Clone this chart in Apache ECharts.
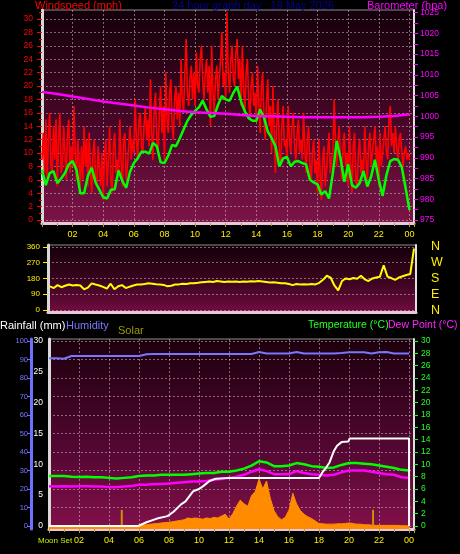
<!DOCTYPE html>
<html><head><meta charset="utf-8">
<script src="https://cdn.jsdelivr.net/npm/echarts@6/dist/echarts.min.js"></script>
<style>html,body{margin:0;padding:0;background:#000;}#c{width:460px;height:554px;}</style>
</head><body><div id="c"></div>
<script>
// ---- data (hours since midnight) ----
const gustStep = 1/12;
const windGust = [
 9,13,7,15,6,12,16,8,7,14,9,15,
 5,12,16,7,8,14,10,6,13,15,7,11,
 8,17,10,6,12,9,5,11,6,14,8,12,
 5,13,7,4,10,12,6,5,11,8,5,10,
 3,10,12,5,9,14,6,4,11,13,7,9,
 7,15,9,5,12,13,6,8,11,14,9,12,
 10,18,12,9,15,16,11,10,14,17,12,15,
 11,21,13,9,17,19,12,10,16,20,13,17,
 9,22,15,13,19,21,14,12,18,20,15,19,
 14,24,18,16,22,27,19,17,21,23,18,22,
 17,25,20,19,24,26,21,18,22,24,19,23,
 14,26,19,16,21,23,18,18,24,28,20,22,
 18,31,22,19,24,26,21,20,25,27,21,24,
 17,26,20,16,22,24,18,15,20,22,17,19,
 15,23,17,13,20,22,15,12,18,21,14,17,
 10,20,13,7,15,18,10,8,14,17,11,12,
 9,17,12,10,14,16,11,9,13,15,10,12,
 9,16,11,7,12,14,8,6,10,12,7,9,
 4,12,7,3,9,11,5,5,10,13,7,9,
 10,18,12,8,12,14,9,6,11,13,8,10,
 5,14,8,4,11,13,6,5,10,12,7,9,
 7,14,9,6,11,13,8,8,12,14,9,11,
 5,13,8,8,12,14,10,9,15,17,11,13,
 10,14,11,9,12,13,10,8,10,11,9,10,
 9];
const avgStep = 0.25;
const windAvg = [
 7.5,5.2,7.0,7.3,5.5,6.2,7.0,8.3,8.8,7.5,4.0,4.0,6.6,7.8,5.6,4.5,
 3.4,3.2,4.5,4.6,7.4,5.8,4.8,7.2,8.5,9.2,10.2,10.2,9.9,11.5,11.0,8.6,
 8.5,9.6,11.2,11.0,12.2,13.5,14.8,15.7,16.3,16.8,17.8,16.5,15.4,15.5,17.2,18.5,
 18.0,17.8,19.0,19.9,17.7,16.2,15.2,14.8,14.8,16.5,15.3,13.2,12.2,11.0,8.0,9.2,
 9.4,8.0,8.7,8.8,8.5,8.3,6.0,5.6,5.3,3.8,4.3,3.2,7.0,11.8,9.2,5.7,
 8.3,5.2,4.8,5.5,7.3,5.0,6.5,9.0,6.0,3.6,6.7,8.8,9.1,9.0,7.9,4.8, 1.5];
const baroStep = 1;
const barometer = [1005.9,1005.4,1004.8,1004.2,1003.6,1003.1,1002.6,1002.1,1001.7,1001.3,1001.0,1000.8,
 1000.6,1000.3,1000.1,1000.0,999.9,999.8,999.8,999.8,999.8,999.8,999.9,1000.1,1000.5];
const dirStep = 0.25;
const windDir = [
 135,125,142,130,138,145,140,143,140,118,128,152,145,140,132,122,
 150,118,135,142,125,133,140,145,146,148,152,150,147,146,143,135,
 138,145,146,150,148,152,153,155,158,160,162,160,165,163,160,162,
 161,163,160,162,161,164,162,165,163,160,157,158,155,152,153,148,
 142,148,146,147,145,148,146,155,172,195,185,140,112,165,180,175,
 182,178,195,175,165,180,185,190,255,190,182,172,185,192,199,205, 350];
const halfStep = 0.5;
const humidity = [90.7,90.7,90.4,91.9,91.9,91.9,91.9,91.9,91.9,91.9,91.9,91.9,91.9,92.8,93.0,93.0,93.0,93.0,93.0,93.0,
 93.0,93.0,93.0,93.0,93.0,93.0,93.0,93.0,94.0,93.2,93.2,93.2,93.2,94.0,93.2,93.2,93.2,93.2,93.2,93.5,
 93.9,93.9,93.9,93.2,93.9,94.0,93.2,93.2,93.2];
const temperature = [8.1,8.1,8.1,8.0,7.95,8.0,7.9,7.9,7.8,7.7,7.8,7.9,8.1,8.2,8.2,8.3,8.3,8.3,8.3,8.4,
 8.5,8.6,8.6,8.8,8.8,9.0,9.3,9.8,10.5,10.3,9.7,9.7,9.8,10.2,10.0,9.7,9.6,9.4,9.5,9.9,
 10.2,10.2,10.1,10.0,9.8,9.6,9.4,9.1,9.0];
const dewPoint = [6.45,6.4,6.45,6.4,6.45,6.45,6.4,6.4,6.3,6.3,6.4,6.5,6.7,6.7,6.8,6.8,6.9,7.0,7.1,7.2,
 7.2,7.3,7.5,7.6,7.8,8.0,8.3,8.8,9.2,8.9,8.4,8.4,8.4,8.9,8.6,8.4,8.3,8.2,8.3,8.7,
 9.0,9.0,9.0,8.8,8.6,8.4,8.3,7.9,7.8];
const rainTimes = [0,5.95,6.5,7.2,7.9,8.3,8.8,9.1,9.6,10.0,10.3,10.7,11.1,12.0,18.0,18.2,18.45,18.7,18.85,19.0,19.2,19.5,19.95,20.05,24.0,24.0];
const rainTotal = [0,0,0.6,1.2,1.6,2.3,3.5,4.0,5.6,6.0,6.5,7.3,7.65,7.8,7.8,8.6,9.4,10.3,11.3,12.2,13.0,13.6,13.7,14.2,14.2,0];
const solarStep = 0.25;
const solar = [
 0,0,0,0,0,0,0,0,0,0,0,0,0,0,0,0,0,0,0,0,0,0,0,0,
 2,3,4,6,7,8,10,11,12,14,16,18,
 20,26,24,26,24,22,26,24,28,26,32,38,
 22,40,64,84,72,64,98,112,152,120,146,90,
 50,30,20,28,52,106,72,50,38,30,24,16,
 8,7,6,6,6,7,7,8,10,8,6,6,
 4,4,3,2,2,2,2,2,2,2,1,1, 0];
const rainRateTimes = [4.85, 21.6];
const rainRate = [2.6, 2.6];
const windLabels = [0,2,4,6,8,10,12,14,16,18,20,22,24,26,28,30];
const windMinor = [1,3,5,7,9,11,13,15,17,19,21,23,25,27,29,31];
const baroLabels = [975,980,985,990,995,1000,1005,1010,1015,1020,1025];
const baroTicks = [975,977.5,980,982.5,985,987.5,990,992.5,995,997.5,1000,1002.5,1005,1007.5,1010,1012.5,1015,1017.5,1020,1022.5,1025];
const dirLabels = [0,90,180,270,360];
const compass = {0:'N',90:'E',180:'S',270:'W',360:'N'};
const humLabels = [0,10,20,30,40,50,60,70,80,90,100];
const rainLabels = [0,5,10,15,20,25,30];
const tempLabels = [0,2,4,6,8,10,12,14,16,18,20,22,24,26,28,30];

// ---- helpers ----
const seq = (arr, step) => arr.map((v, i) => [+(i * step).toFixed(4), v]);
const zip = (ts, vs) => ts.map((t, i) => [t, vs[i]]);
const FONT = 'Liberation Sans, Arial, sans-serif';
const bg = (a, b, c) => ({type:'linear', x:0, y:0, x2:0, y2:1, colorStops:[{offset:0,color:a},{offset:0.55,color:b},{offset:1,color:c}]});
const hourFmt = v => {
  const r = Math.round(v);
  if (Math.abs(v - r) > 1e-6 || r <= 0 || r % 2) return '';
  return String(r % 24).padStart(2, '0');
};
const plain = v => String(v);
const grid = {lineStyle:{color:'rgba(210,190,200,0.55)', type:[2,2], width:1}};

const chart = echarts.init(document.getElementById('c'), null, {renderer:'canvas'});
const T = (text, left, top, color, size) => ({text, left, top, padding:0, z:20, textStyle:{color, fontSize:size||11, fontWeight:'normal', fontFamily:FONT}});

chart.setOption({
  animation:false,
  backgroundColor:'#000',
  title:[
    T('Windspeed (mph)', 35, 0, '#ff0000'),
    T('24 hour graph day : 19 May 2026', 172, 0, '#000099'),
    T('Barometer (hpa)', 367, 0, '#ff00ff'),
    T('Rainfall (mm)', 0, 320, '#ffffff'),
    T('Humidity', 66, 320, '#7777ff'),
    T('Solar', 118, 325, '#9a9a00'),
    T('Temperature (°C)', 308, 320, '#22ff22', 10.5),
    T('Dew Point (°C)', 388, 320, '#ff22ff', 10.5),
    T('Moon Set', 38, 536.5, '#ccee00', 8)
  ],
  grid:[
    {left:42, top:10, width:372, height:213, show:true, backgroundColor:bg('#14000a','#4a0628','#7c1448'), borderColor:'#8c8c8c', borderWidth:1},
    {left:48, top:245, width:368, height:67, show:true, backgroundColor:bg('#140008','#3c0420','#720c40'), borderColor:'#8c8c8c', borderWidth:1},
    {left:49, top:339, width:365, height:190, show:true, backgroundColor:bg('#1c000c','#500630','#82104a'), borderColor:'#8c8c8c', borderWidth:1}
  ],
  xAxis:[
    {type:'value', gridIndex:0, min:0, max:24.3, interval:2,
     axisLine:{show:true, onZero:false, lineStyle:{color:'#e8c8d8', width:3}},
     axisTick:{show:true, length:4, lineStyle:{color:'#b0a040'}},
     minorTick:{show:true, splitNumber:2, length:3, lineStyle:{color:'#b0a040'}},
     axisLabel:{formatter:hourFmt, color:'#ffee00', fontSize:9, fontFamily:FONT, margin:7},
     splitLine:{show:true, ...grid}},
    {type:'value', gridIndex:1, min:-0.13, max:24.13,
     axisLine:{show:true, onZero:false, lineStyle:{color:'#e8c8d8', width:3}},
     axisTick:{show:false}, axisLabel:{show:false}, splitLine:{show:false}},
    {type:'value', gridIndex:2, min:0, max:24.33, interval:2,
     axisLine:{show:true, onZero:false, lineStyle:{color:'#e8c8d8', width:3}},
     axisTick:{show:true, length:4, lineStyle:{color:'#b0a040'}},
     minorTick:{show:true, splitNumber:2, length:3, lineStyle:{color:'#b0a040'}},
     axisLabel:{formatter:hourFmt, color:'#ffee00', fontSize:9, fontFamily:FONT, margin:7},
     splitLine:{show:true, ...grid}}
  ],
  yAxis:[
    {type:'value', gridIndex:0, position:'left', min:-0.45, max:31.34,
     axisLine:{show:true, onZero:false, lineStyle:{color:'#d8d8d8', width:3}},
     axisTick:{show:true, length:5, customValues:windLabels, lineStyle:{color:'#ff0000'}},
     axisLabel:{customValues:windLabels, formatter:plain, color:'#ff0000', fontSize:8.5, fontFamily:FONT, margin:9},
     splitLine:{show:true, ...grid}},
    {type:'value', gridIndex:0, position:'right', min:974.27, max:1025.65,
     axisLine:{show:true, onZero:false, lineStyle:{color:'#e0e0e0', width:2}},
     axisTick:{show:true, length:4, customValues:baroTicks, lineStyle:{color:'#ff00ff'}},
     axisLabel:{customValues:baroLabels, formatter:plain, color:'#ff00ff', fontSize:8.5, fontFamily:FONT, margin:6},
     splitLine:{show:false}},
    {type:'value', gridIndex:0, position:'left', min:-0.45, max:31.34,
     axisLine:{show:false}, axisLabel:{show:false, customValues:windMinor},
     axisTick:{show:true, length:3, customValues:windMinor, lineStyle:{color:'#ff0000'}},
     splitLine:{show:false}},
    {type:'value', gridIndex:1, position:'left', min:-11, max:370,
     axisLine:{show:true, onZero:false, lineStyle:{color:'#d8d8d8', width:3}},
     axisTick:{show:true, length:5, customValues:dirLabels, lineStyle:{color:'#ffee00'}},
     axisLabel:{customValues:dirLabels, formatter:plain, color:'#ffee00', fontSize:8, fontFamily:FONT, margin:8},
     splitLine:{show:true, ...grid}},
    {type:'value', gridIndex:1, position:'right', min:-11, max:370,
     axisLine:{show:true, onZero:false, lineStyle:{color:'#e0e0e0', width:2}},
     axisTick:{show:false, customValues:dirLabels},
     axisLabel:{customValues:dirLabels, formatter:v => compass[v] || '', color:'#ffee00', fontSize:12.5, fontFamily:FONT, margin:15},
     splitLine:{show:false}},
    {type:'value', gridIndex:2, position:'left', offset:18, min:-1.62, max:101.07,
     axisLine:{show:true, onZero:false, lineStyle:{color:'#7070ff', width:3}},
     axisTick:{show:true, length:4, customValues:humLabels, lineStyle:{color:'#7070ff'}},
     axisLabel:{customValues:humLabels, formatter:plain, color:'#7777ff', fontSize:7.5, fontFamily:FONT, margin:3},
     splitLine:{show:true, ...grid}},
    {type:'value', gridIndex:2, position:'left', min:-0.49, max:30.32,
     axisLine:{show:true, onZero:false, lineStyle:{color:'#d8d8d8', width:3}},
     axisTick:{show:false, customValues:rainLabels},
     axisLabel:{customValues:rainLabels, formatter:plain, color:'#ffffff', fontSize:8.5, fontFamily:FONT, margin:6},
     splitLine:{show:false}},
    {type:'value', gridIndex:2, position:'right', min:-0.49, max:30.32,
     axisLine:{show:true, onZero:false, lineStyle:{color:'#e0e0e0', width:2}},
     axisTick:{show:true, length:4, customValues:tempLabels, lineStyle:{color:'#22ff22'}},
     axisLabel:{customValues:tempLabels, formatter:plain, color:'#22ff22', fontSize:8.5, fontFamily:FONT, margin:7},
     splitLine:{show:false}},
    {type:'value', gridIndex:2, position:'right', min:-9.8, max:606.4, show:false}
  ],
  series:[
    {type:'line', name:'Gust', xAxisIndex:0, yAxisIndex:0, data:seq(windGust, gustStep), symbol:'none',
     lineStyle:{color:'#ff0000', width:1.6}, z:2},
    {type:'line', name:'Wind', xAxisIndex:0, yAxisIndex:0, data:seq(windAvg, avgStep), symbol:'none',
     lineStyle:{color:'#00ff00', width:2.5}, z:3},
    {type:'line', name:'Barometer', xAxisIndex:0, yAxisIndex:1, data:seq(barometer, baroStep), symbol:'none',
     lineStyle:{color:'#ff00ff', width:2.5}, z:4},
    {type:'line', name:'Direction', xAxisIndex:1, yAxisIndex:3, data:seq(windDir, dirStep), symbol:'none',
     lineStyle:{color:'#ffff00', width:2}, z:3},
    {type:'line', name:'Solar', xAxisIndex:2, yAxisIndex:8, data:seq(solar, solarStep), symbol:'none',
     lineStyle:{color:'#ff8c00', width:1}, areaStyle:{color:'#ff8c00', opacity:1, origin:'start'}, z:2},
    {type:'bar', name:'Rate', xAxisIndex:2, yAxisIndex:6, data:zip(rainRateTimes, rainRate), barWidth:2,
     itemStyle:{color:'#c89400'}, z:3},
    {type:'line', name:'Humidity', xAxisIndex:2, yAxisIndex:5, data:seq(humidity, halfStep), symbol:'none',
     lineStyle:{color:'#7777ff', width:2}, z:3},
    {type:'line', name:'Temperature', xAxisIndex:2, yAxisIndex:7, data:seq(temperature, halfStep), symbol:'none',
     lineStyle:{color:'#00ff00', width:2.5}, z:3},
    {type:'line', name:'Dew', xAxisIndex:2, yAxisIndex:7, data:seq(dewPoint, halfStep), symbol:'none',
     lineStyle:{color:'#ff00ff', width:2.5}, z:3},
    {type:'line', name:'Rain', xAxisIndex:2, yAxisIndex:6, data:zip(rainTimes, rainTotal), symbol:'none',
     lineStyle:{color:'#ffffff', width:2}, z:4}
  ]
});
</script></body></html>
